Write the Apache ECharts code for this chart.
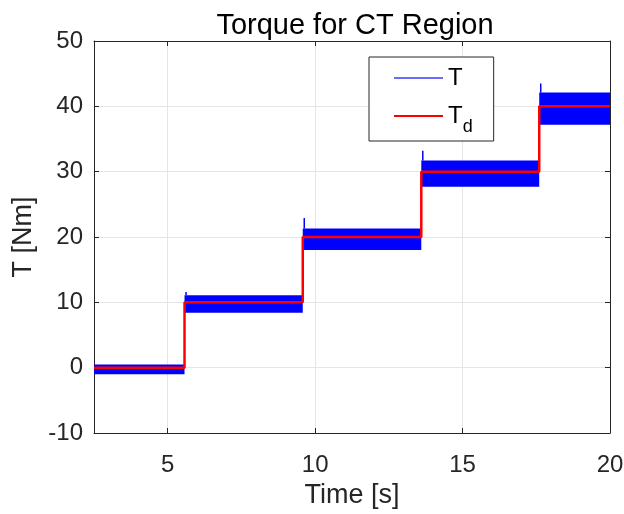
<!DOCTYPE html>
<html>
<head>
    <meta charset="utf-8" />
    <title>Torque for CT Region</title>
    <style>
        html, body { margin: 0; padding: 0; background: #fff; }
        #charts { width: 624px; height: 514px; }
    </style>
</head>
<body>
    <div id="charts"></div>
    <script src="https://cdn.jsdelivr.net/npm/echarts@6/dist/echarts.min.js"></script>
    <script type="text/javascript">
        // 数据
        var stepTimes = [2.5, 5.57, 9.58, 13.6, 17.6, 20];   // 分段起止时间 [s]
        var tdValues = [0, 10, 20, 30, 40];                // 期望转矩 Td
        var bandLow = [-1.0, 8.4, 18.0, 27.7, 37.2];       // T 振荡下沿
        var bandHigh = [0.5, 11.1, 21.3, 31.7, 42.1];      // T 振荡上沿
        var spikePeak = [0.5, 11.6, 22.9, 33.2, 43.5];     // 阶跃瞬间尖峰
        var xTicks = [5, 10, 15, 20];

        // 红线 Td (step)
        var tdData = [];
        for (var i = 0; i < tdValues.length; i++) {
            tdData.push([stepTimes[i], tdValues[i]]);
        }
        tdData.push([stepTimes[stepTimes.length - 1], tdValues[tdValues.length - 1]]);

        // 蓝色振荡带
        var bandData = [];
        for (var j = 0; j < tdValues.length; j++) {
            bandData.push([stepTimes[j], stepTimes[j + 1], bandLow[j], bandHigh[j], spikePeak[j]]);
        }

        var axisColor = '#262626';
        var font = 'Liberation Sans, Arial, Helvetica, sans-serif';

        var myChart = echarts.init(document.getElementById('charts'));

        var option = {
            animation: false,
            backgroundColor: '#fff',
            title: {
                text: 'Torque for CT Region',
                left: 350,
                textAlign: 'center',
                top: 6,
                textStyle: { fontFamily: font, fontSize: 29, fontWeight: 'normal', color: '#000' }
            },
            legend: {
                data: ['T', 'Td'],
                orient: 'vertical',
                left: 369,
                top: 57,
                padding: [9, 21, 5, 24],
                itemWidth: 49,
                itemHeight: 14,
                itemGap: 14,
                borderColor: axisColor,
                borderWidth: 1,
                backgroundColor: '#fff',
                itemStyle: { color: 'rgba(0,0,0,0)', borderWidth: 0 },
                formatter: function (name) {
                    return name === 'Td' ? 'T{sub|d}' : name;
                },
                textStyle: {
                    fontFamily: font, fontSize: 24, color: '#000',
                    rich: { sub: { fontFamily: font, fontSize: 18, color: '#000', padding: [22, 0, 0, 0] } }
                }
            },
            grid: { left: 94, right: 14, top: 41, bottom: 81, containLabel: false, outerBoundsMode: 'none' },
            xAxis: [
                {
                    type: 'value', min: 2.5, max: 20,
                    name: 'Time [s]', nameLocation: 'middle', nameGap: 39,
                    nameTextStyle: { fontFamily: font, fontSize: 27, color: axisColor },
                    axisLine: { show: true, onZero: false, lineStyle: { color: axisColor, width: 1 } },
                    axisTick: { show: true, inside: true, length: 5, customValues: xTicks, lineStyle: { color: axisColor } },
                    axisLabel: { customValues: xTicks, margin: 20, fontFamily: font, fontSize: 24, color: axisColor },
                    splitLine: { show: true, lineStyle: { color: '#e5e5e5', width: 1 } }
                },
                {
                    type: 'value', min: 2.5, max: 20, position: 'top',
                    axisLine: { show: true, onZero: false, lineStyle: { color: axisColor, width: 1 } },
                    axisTick: { show: true, inside: true, length: 5, customValues: xTicks, lineStyle: { color: axisColor } },
                    axisLabel: { show: false },
                    splitLine: { show: false }
                }
            ],
            yAxis: [
                {
                    type: 'value', min: -10, max: 50, interval: 10,
                    name: 'T [Nm]', nameLocation: 'middle', nameGap: 44,
                    nameTextStyle: { fontFamily: font, fontSize: 27, color: axisColor },
                    axisLine: { show: true, onZero: false, lineStyle: { color: axisColor, width: 1 } },
                    axisTick: { show: true, inside: true, length: 5, lineStyle: { color: axisColor } },
                    axisLabel: { margin: 11, fontFamily: font, fontSize: 24, color: axisColor },
                    splitLine: { show: true, lineStyle: { color: '#e5e5e5', width: 1 } }
                },
                {
                    type: 'value', min: -10, max: 50, interval: 10, position: 'right',
                    axisLine: { show: true, onZero: false, lineStyle: { color: axisColor, width: 1 } },
                    axisTick: { show: true, inside: true, length: 5, lineStyle: { color: axisColor } },
                    axisLabel: { show: false },
                    splitLine: { show: false }
                }
            ],
            series: [
                {
                    name: 'Tband',
                    type: 'custom',
                    xAxisIndex: 0,
                    yAxisIndex: 0,
                    encode: { x: [0, 1], y: [2, 3, 4] },
                    data: bandData,
                    renderItem: function (params, api) {
                        var cs = params.coordSys;
                        var pTop = api.coord([api.value(0), api.value(3)]);
                        var pBot = api.coord([api.value(1), api.value(2)]);
                        var rect = echarts.graphic.clipRectByRect(
                            { x: pTop[0], y: pTop[1], width: pBot[0] - pTop[0], height: pBot[1] - pTop[1] },
                            { x: cs.x, y: cs.y, width: cs.width, height: cs.height }
                        );
                        var children = [];
                        if (rect) {
                            children.push({ type: 'rect', shape: rect, style: { fill: '#0000ff' } });
                        }
                        if (api.value(4) > api.value(3)) {
                            var s0 = api.coord([api.value(0), api.value(3)]);
                            var s1 = api.coord([api.value(0), api.value(4)]);
                            children.push({
                                type: 'line',
                                shape: { x1: s0[0] + 1.5, y1: s0[1], x2: s1[0] + 1.5, y2: s1[1] },
                                style: { stroke: '#0000ff', lineWidth: 1.5 }
                            });
                        }
                        return { type: 'group', children: children };
                    },
                    z: 2
                },
                {
                    name: 'T',
                    type: 'line',
                    data: [],
                    showSymbol: false,
                    symbol: 'none',
                    color: '#0000ff',
                    lineStyle: { color: '#6a6aff', width: 1.5 }
                },
                {
                    name: 'Td',
                    type: 'line',
                    step: 'end',
                    data: tdData,
                    showSymbol: false,
                    symbol: 'none',
                    color: '#ff0000',
                    lineStyle: { color: '#ff0000', width: 2.5 },
                    z: 3
                }
            ]
        };

        myChart.setOption(option);
    </script>
</body>
</html>
